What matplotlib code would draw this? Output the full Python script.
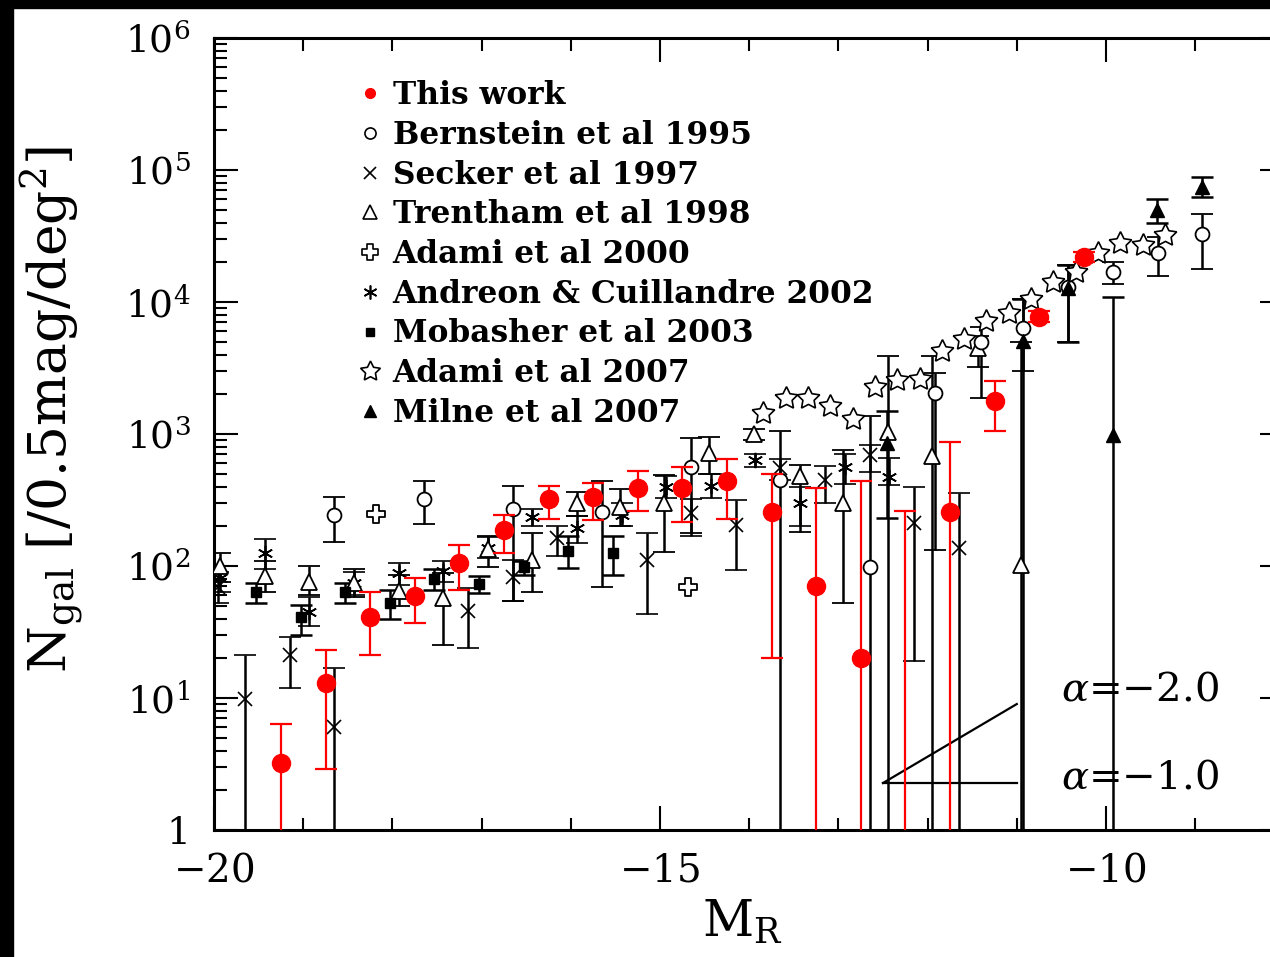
import matplotlib
matplotlib.use("Agg")
import matplotlib.pyplot as plt
import numpy as np
from matplotlib.path import Path
from matplotlib.lines import Line2D
from matplotlib.patches import Rectangle
from matplotlib.ticker import FixedLocator, MultipleLocator, LogLocator, NullFormatter

plt.rcParams['font.family'] = ['DejaVu Serif']
plt.rcParams['mathtext.fontset'] = 'dejavuserif'

# ---------------- data: M_R bins and N_gal per 0.5 mag per deg^2 ----------------
OFF = 0.1  # lower limit below the plotted range

this_x = [-19.25, -18.75, -18.25, -17.75, -17.25, -16.75, -16.25, -15.75, -15.25, -14.75,
          -14.25, -13.75, -13.25, -12.75, -12.25, -11.75, -11.25, -10.75, -10.25]
this_n = [3.2, 13, 41, 59, 105, 186, 324, 331, 389, 389, 437, 257, 71, 20, 0.5, 257, 1780, 7760, 21900]
this_lo = [OFF, 2.9, 21, 37, 66, 126, 229, 224, 263, 214, 229, 20, OFF, OFF, OFF, OFF, 1050, 7000, 20000]
this_hi = [6.3, 23, 63, 81, 145, 245, 407, 427, 525, 562, 646, 501, 389, 437, 263, 871, 2510, 8500, 24000]

bern_x = [-18.65, -17.65, -16.65, -15.65, -14.65, -13.65, -12.65, -11.92, -11.40, -10.93,
          -10.43, -9.92, -9.42, -8.92]
bern_n = [245, 324, 270, 257, 560, 447, 98, 2050, 5000, 6300, 13000, 16900, 23500, 33000]
bern_lo = [151, 209, 54, 69, 178, OFF, OFF, 132, 1860, 3000, 5000, 13800, 15800, 17800]
bern_hi = [331, 437, 407, 437, 933, 1050, 1380, 2900, 6500, 10500, 19000, 20000, 31000, 46800]

secker_x = [-19.95, -19.65, -19.15, -18.65, -17.15, -16.65, -16.15, -15.15, -14.65, -14.15,
            -13.65, -13.15, -12.65, -12.15, -11.65]
secker_n = [69, 9.8, 21, 6, 46, 83, 163, 111, 250, 204, 550, 447, 690, 213, 137]
secker_lo = [52, OFF, 12, OFF, 24, 54, 120, 43, 170, 93, 450, 300, 513, 19, OFF]
secker_hi = [90, 21, 29, 17, 68, 112, 200, 178, 320, 316, 650, 575, 830, 398, 355]

trent_x = [-19.93, -19.43, -18.93, -18.43, -17.93, -17.43, -16.93, -16.43, -15.93, -15.45,
           -14.95, -14.45, -13.95, -13.43, -12.95, -12.44, -11.95, -11.43, -10.95]
trent_n = [100, 84, 76, 74, 65, 57, 134, 111, 300, 280, 300, 720, 1000, 480, 300, 1040, 680, 4470, 102]
trent_lo = [76, 63, 60, 58, 50, 25, 98, 63, 240, 200, 128, 500, 900, 180, 52, OFF, OFF, 3240, OFF]
trent_hi = [126, 110, 100, 95, 85, 89, 170, 178, 363, 380, 490, 950, 1100, 580, 760, 3900, 3900, 5500, 5000]

adami00_x = [-18.18, -14.69]
adami00_n = [247, 69]

andr_x = [-19.93, -19.43, -18.93, -18.43, -17.93, -17.43, -16.93, -16.43, -15.93, -15.43,
          -14.93, -14.43, -13.93, -13.43, -12.93, -12.43]
andr_n = [81, 126, 45, 74, 89, 91, 138, 234, 195, 245, 398, 407, 630, 300, 560, 470]
andr_lo = [63, 95, 35, 60, 72, 75, 115, 200, 150, 200, 330, 330, 560, 200, 420, 410]
andr_hi = [100, 160, 58, 90, 105, 110, 165, 270, 240, 300, 480, 500, 700, 400, 700, 660]

mob_x = [-19.53, -19.03, -18.53, -18.03, -17.53, -17.03, -16.53, -16.03, -15.53]
mob_n = [63, 41, 63, 52, 80, 73, 98, 130, 126]
mob_lo = [52, 30, 52, 40, 66, 62, 86, 96, 85]
mob_hi = [74, 51, 74, 66, 95, 84, 110, 170, 170]

adami07_x = [-13.84, -13.59, -13.34, -13.09, -12.84, -12.59, -12.34, -12.09, -11.84, -11.59,
             -11.34, -11.09, -10.84, -10.59, -10.34, -10.09, -9.84, -9.59, -9.34]
adami07_n = [1450, 1860, 1860, 1620, 1290, 2290, 2570, 2630, 4270, 5250,
             7240, 8320, 10500, 14100, 17000, 23400, 28200, 26900, 32400]

milne_x = [-12.45, -10.93, -10.43, -9.92, -9.43, -8.92]
milne_n = [850, 5100, 12800, 980, 50000, 74000]
milne_lo = [230, OFF, 5000, OFF, 40000, 62000]
milne_hi = [1500, 10500, 19000, 11000, 60000, 89000]

# reference slopes of the luminosity function
slope_x = [-12.5, -11.0]
slope_a1 = [2.27, 2.27]
slope_a2 = [2.27, 9.0]

labels = ["This work", "Bernstein et al 1995", "Secker et al 1997", "Trentham et al 1998",
          "Adami et al 2000", "Andreon & Cuillandre 2002", "Mobasher et al 2003",
          "Adami et al 2007", "Milne et al 2007"]

# ---------------- figure ----------------
W, H = 1270, 957
fig = plt.figure(figsize=(W / 100, H / 100), dpi=100)
fig.patch.set_facecolor('white')
x0, x1, ytop, ybot = 214, 1284.4, 38, 830
ax = fig.add_axes([x0 / W, 1 - ybot / H, (x1 - x0) / W, (ybot - ytop) / H])
ax.set_xlim(-20, -8)
ax.set_yscale('log')
ax.set_ylim(1, 1e6)

plus_path = Path([(-0.35, 1), (0.35, 1), (0.35, 0.35), (1, 0.35), (1, -0.35), (0.35, -0.35),
                  (0.35, -1), (-0.35, -1), (-0.35, -0.35), (-1, -0.35), (-1, 0.35), (-0.35, 0.35),
                  (-0.35, 1)], closed=True)


def errs(n, lo, hi):
    n = np.asarray(n, float)
    return [n - np.asarray(lo, float), np.asarray(hi, float) - n]


eb = dict(fmt='', ecolor='black', elinewidth=1.8, capsize=8, capthick=1.8, ls='none', zorder=3)

ax.errorbar(andr_x, andr_n, yerr=errs(andr_n, andr_lo, andr_hi), marker=(6, 2, 0), ms=11,
            mec='black', mew=1.2, **eb)
ax.errorbar(secker_x, secker_n, yerr=errs(secker_n, secker_lo, secker_hi), marker='x', ms=10,
            mec='black', mew=1.2, **eb)
ax.errorbar(trent_x, trent_n, yerr=errs(trent_n, trent_lo, trent_hi), marker='^', ms=11,
            mfc='white', mec='black', mew=1.3, **eb)
ax.errorbar(mob_x, mob_n, yerr=errs(mob_n, mob_lo, mob_hi), marker='s', ms=7,
            mfc='black', mec='black', **eb)
ax.errorbar(bern_x, bern_n, yerr=errs(bern_n, bern_lo, bern_hi), marker='o', ms=10,
            mfc='white', mec='black', mew=1.3, **eb)
ax.errorbar(milne_x, milne_n, yerr=errs(milne_n, milne_lo, milne_hi), marker='^', ms=10,
            mfc='black', mec='black', **eb)
ax.plot(adami00_x, adami00_n, ls='none', marker=plus_path, ms=13, mfc='white', mec='black',
        mew=1.3, zorder=4)
ax.plot(adami07_x, adami07_n, ls='none', marker=(5, 1, 0), ms=17, mfc='white', mec='black',
        mew=1.2, zorder=4)
ax.errorbar(this_x, this_n, yerr=errs(this_n, this_lo, this_hi), fmt='o', ms=13,
            mfc='red', mec='red', ecolor='red', elinewidth=1.6, capsize=8, capthick=1.6,
            ls='none', zorder=5)

ax.plot(slope_x, slope_a1, color='black', lw=1.6, zorder=4)
ax.plot(slope_x, slope_a2, color='black', lw=1.6, zorder=4)
ax.text(-10.5, 11.5, r'$\alpha$=$-$2.0', fontsize=29, va='center', ha='left', zorder=6)
ax.text(-10.5, 2.48, r'$\alpha$=$-$1.0', fontsize=29, va='center', ha='left', zorder=6)

# ---------------- axes styling ----------------
for s in ax.spines.values():
    s.set_linewidth(2.2)
ax.xaxis.set_major_locator(FixedLocator([-20, -15, -10]))
ax.xaxis.set_minor_locator(MultipleLocator(1))
ax.set_xticklabels(['$-$20', '$-$15', '$-$10'])
ax.yaxis.set_major_locator(FixedLocator([1, 10, 100, 1e3, 1e4, 1e5, 1e6]))
ax.set_yticklabels(['1', '$10^1$', '$10^2$', '$10^3$', '$10^4$', '$10^5$', '$10^6$'])
ax.yaxis.set_minor_locator(LogLocator(base=10, subs=np.arange(2, 10), numticks=20))
ax.yaxis.set_minor_formatter(NullFormatter())
ax.tick_params(which='both', direction='in', top=True, right=True, width=1.5)
ax.tick_params(which='major', length=17)
ax.tick_params(which='minor', length=9)
ax.tick_params(axis='x', which='major', labelsize=28, pad=16)
ax.tick_params(axis='y', which='major', labelsize=27, pad=17)

fig.text(52 / W, 1 - 410 / H, r'N$_{\rm gal}$ [/0.5mag/deg$^2$]', rotation=90,
         ha='center', va='center', fontsize=38.5)
fig.text(742 / W, 1 - 922 / H, r'M$_{\rm R}$', ha='center', va='center', fontsize=36)

# ---------------- legend ----------------
handles = [
    Line2D([], [], ls='none', marker='o', ms=7, mfc='red', mec='red'),
    Line2D([], [], ls='none', marker='o', ms=8, mfc='white', mec='black', mew=1.2),
    Line2D([], [], ls='none', marker='x', ms=9, mec='black', mew=1.2),
    Line2D([], [], ls='none', marker='^', ms=10, mfc='white', mec='black', mew=1.2),
    Line2D([], [], ls='none', marker=plus_path, ms=11, mfc='white', mec='black', mew=1.2),
    Line2D([], [], ls='none', marker=(6, 2, 0), ms=10, mec='black', mew=1.2),
    Line2D([], [], ls='none', marker='s', ms=6, mfc='black', mec='black'),
    Line2D([], [], ls='none', marker=(5, 1, 0), ms=15, mfc='white', mec='black', mew=1.2),
    Line2D([], [], ls='none', marker='^', ms=9, mfc='black', mec='black'),
]
leg = fig.legend(handles, labels, loc='upper left', bbox_to_anchor=(359 / W, 1 - 80 / H),
                 frameon=False, borderpad=0, borderaxespad=0, handlelength=0.7,
                 handletextpad=0.38, labelspacing=0.28,
                 prop={'family': 'DejaVu Serif', 'weight': 'bold', 'size': 22.5})

# frame strips along the top and left edges of the picture
fig.patches.append(Rectangle((0, 0), 13 / W, 1, transform=fig.transFigure, color='black', zorder=10))
fig.patches.append(Rectangle((0, 1 - 8 / H), 1, 8 / H, transform=fig.transFigure, color='black', zorder=10))

fig.savefig('out.png', dpi=100)
